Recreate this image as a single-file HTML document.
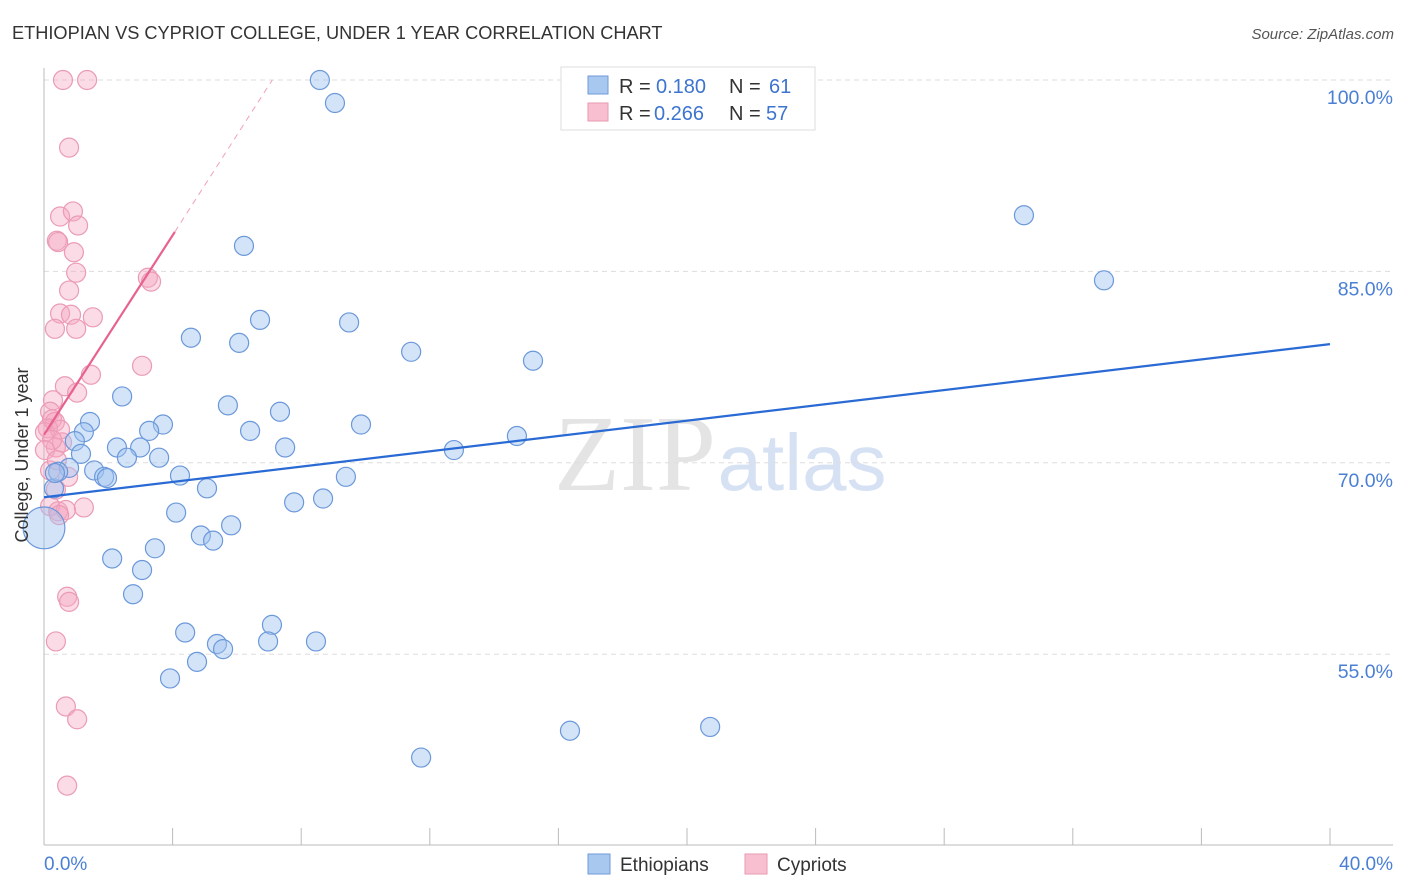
<!DOCTYPE html>
<html><head><meta charset="utf-8"><style>
body{margin:0;background:#fff;font-family:"Liberation Sans",sans-serif;}
svg{display:block}
</style></head><body>
<svg id="chart" width="1406" height="892">
<text x="12" y="39" font-size="18.2" fill="#333">ETHIOPIAN VS CYPRIOT COLLEGE, UNDER 1 YEAR CORRELATION CHART</text>
<text x="1394" y="39" font-size="15" fill="#555" font-style="italic" text-anchor="end">Source: ZipAtlas.com</text>
<g>
<text x="635" y="490" font-size="108" fill="#e4e4e4" font-family="Liberation Serif,serif" text-anchor="middle">ZIP</text>
<text x="802" y="490" font-size="80" fill="#d6e2f4" text-anchor="middle">atlas</text>
</g>
<g id="grid"></g>
<g id="axes"></g>
<g id="marks"></g>
<g id="lines"></g>
<text x="28" y="455" font-size="18" fill="#333" text-anchor="middle" transform="rotate(-90 28 455)">College, Under 1 year</text>
<g>
<rect x="561" y="67" width="254" height="63" fill="#fff" stroke="#ddd"/>
<rect x="588" y="76" width="20" height="18" fill="#a9c8f0" stroke="#6f9ad8"/>
<rect x="588" y="103" width="20" height="18" fill="#f7bfd0" stroke="#e99ab2"/>
<text x="619" y="93" font-size="20" fill="#333">R = </text><text x="656" y="93" font-size="20" fill="#3d74d0">0.180</text>
<text x="729" y="93" font-size="20" fill="#333">N = </text><text x="769" y="93" font-size="20" fill="#3d74d0">61</text>
<text x="619" y="120" font-size="20" fill="#333">R = </text><text x="654" y="120" font-size="20" fill="#3d74d0">0.266</text>
<text x="729" y="120" font-size="20" fill="#333">N = </text><text x="766" y="120" font-size="20" fill="#3d74d0">57</text>
</g>
<g>
<rect x="588" y="854" width="22" height="20" fill="#a9c8f0" stroke="#6f9ad8"/>
<text x="620" y="871" font-size="19" fill="#333">Ethiopians</text>
<rect x="745" y="854" width="22" height="20" fill="#f7bfd0" stroke="#e99ab2"/>
<text x="777" y="871" font-size="19" fill="#333">Cypriots</text>
</g>
</svg>
<script>
const yTicks=[100,85,70,55];
const xTickLabels=["0.0%","40.0%"];
const blueX=[8.58,9.05,30.48,32.97,6.22,6.72,4.57,6.07,9.49,11.42,15.21,2.43,5.72,7.34,1.43,3.70,3.27,6.41,9.86,1.24,0.96,2.27,2.99,7.50,12.75,14.71,2.58,3.58,1.15,0.78,1.56,1.87,4.23,9.39,5.07,0.31,0.44,7.78,8.68,4.11,5.82,4.88,5.26,3.45,2.12,3.05,2.77,4.39,7.09,5.38,5.57,6.97,8.46,4.76,3.92,16.36,20.72,11.73,0.34,1.96,0.0];
const blueY=[100,98.2,89.4,84.3,87.0,81.2,79.8,79.4,81.0,78.7,78.0,75.2,74.5,74.0,73.2,73.0,72.5,72.5,73.0,72.4,71.7,71.2,71.2,71.2,71.0,72.1,70.4,70.4,70.7,69.6,69.4,68.9,69.0,68.9,68.0,68.0,69.3,66.9,67.2,66.1,65.1,64.3,63.9,63.3,62.5,61.6,59.7,56.7,57.3,55.8,55.4,56.0,56.0,54.4,53.1,49.0,49.3,46.9,69.2,68.8,64.9];
const blueSize=[1,1,1,1,1,1,1,1,1,1,1,1,1,1,1,1,1,1,1,1,1,1,1,1,1,1,1,1,1,1,1,1,1,1,1,1,1,1,1,1,1,1,1,1,1,1,1,1,1,1,1,1,1,1,1,1,1,1,1,1,2.2];
const pinkX=[0.59,1.34,0.78,0.50,0.90,1.06,0.40,0.44,0.93,1.00,0.78,0.50,0.84,1.52,1.00,0.34,3.23,3.33,1.46,3.05,0.65,1.03,0.28,0.19,0.25,0.34,0.12,0.03,0.56,0.37,0.75,0.37,0.19,0.44,1.24,0.68,0.47,0.72,0.78,0.37,0.68,1.03,0.72,0.19,0.50,0.25,0.03,0.40];
const pinkY=[100,100,94.7,89.3,89.7,88.6,87.4,87.3,86.5,84.9,83.5,81.7,81.6,81.4,80.5,80.5,84.5,84.2,76.9,77.6,76.0,75.5,74.9,74.0,73.4,73.2,72.7,72.4,71.6,71.2,68.9,67.9,66.6,66.2,66.5,66.3,65.9,59.5,59.1,56.0,50.9,49.9,44.7,69.4,72.6,71.8,71.0,70.2];
const blueLine=[[0,67.3],[40,79.3]];
const pinkLine=[[0,72.2],[4.07,88.1]];
const pinkDash=[[4.07,88.1],[7.1,100]];
const NS="http://www.w3.org/2000/svg";
const sx=v=>44+v*32.15, sy=v=>80+(100-v)*12.76;
function mk(tag,attrs,parent){const e=document.createElementNS(NS,tag);for(const k in attrs)e.setAttribute(k,attrs[k]);document.getElementById(parent).appendChild(e);return e;}
yTicks.forEach(t=>{
 const l=mk('line',{x1:44,x2:1393,y1:sy(t),y2:sy(t),stroke:'#ddd','stroke-dasharray':'5,4'},'grid');
 
 
 const tx=mk('text',{x:1393,y:sy(t)+24,'font-size':19.5,fill:'#4a7fd4','text-anchor':'end'},'grid');
 tx.textContent=t.toFixed(1)+'%';
 
 
});
mk('line',{x1:44,x2:44,y1:68,y2:845,stroke:'#bbb'},'axes');
mk('line',{x1:44,x2:1393,y1:845,y2:845,stroke:'#bbb'},'axes');
for(let i=1;i<=10;i++){const t=mk('line',{x1:sx(i*4),x2:sx(i*4),y1:828,y2:845,stroke:'#bbb'},'axes');
 
 }
const xl0=mk('text',{x:44,y:870,'font-size':19,fill:'#4a7fd4'},'axes');xl0.textContent=xTickLabels[0];


const xl1=mk('text',{x:1393,y:870,'font-size':19,fill:'#4a7fd4','text-anchor':'end'},'axes');xl1.textContent=xTickLabels[1];


pinkX.forEach((x,i)=>{const c=mk('circle',{cx:sx(x),cy:sy(pinkY[i]),r:9.5,fill:'rgba(245,165,192,0.4)',stroke:'#eb9bb5','stroke-width':1.2},'marks');
 
 });
blueX.forEach((x,i)=>{const c=mk('circle',{cx:sx(x),cy:sy(blueY[i]),r:9.5*blueSize[i],fill:'rgba(160,195,240,0.45)',stroke:'#6b98da','stroke-width':1.2},'marks');
 
 });
const bl=mk('line',{x1:sx(blueLine[0][0]),y1:sy(blueLine[0][1]),x2:sx(blueLine[1][0]),y2:sy(blueLine[1][1]),stroke:'#2a6ad4','stroke-width':2.2},'lines');


const pl=mk('line',{x1:sx(pinkLine[0][0]),y1:sy(pinkLine[0][1]),x2:sx(pinkLine[1][0]),y2:sy(pinkLine[1][1]),stroke:'#e8628e','stroke-width':2.2},'lines');


const pd=mk('line',{x1:sx(pinkDash[0][0]),y1:sy(pinkDash[0][1]),x2:sx(pinkDash[1][0]),y2:sy(pinkDash[1][1]),stroke:'#f0a0b8','stroke-width':1,'stroke-dasharray':'6,5'},'lines');


</script>
</body></html>
